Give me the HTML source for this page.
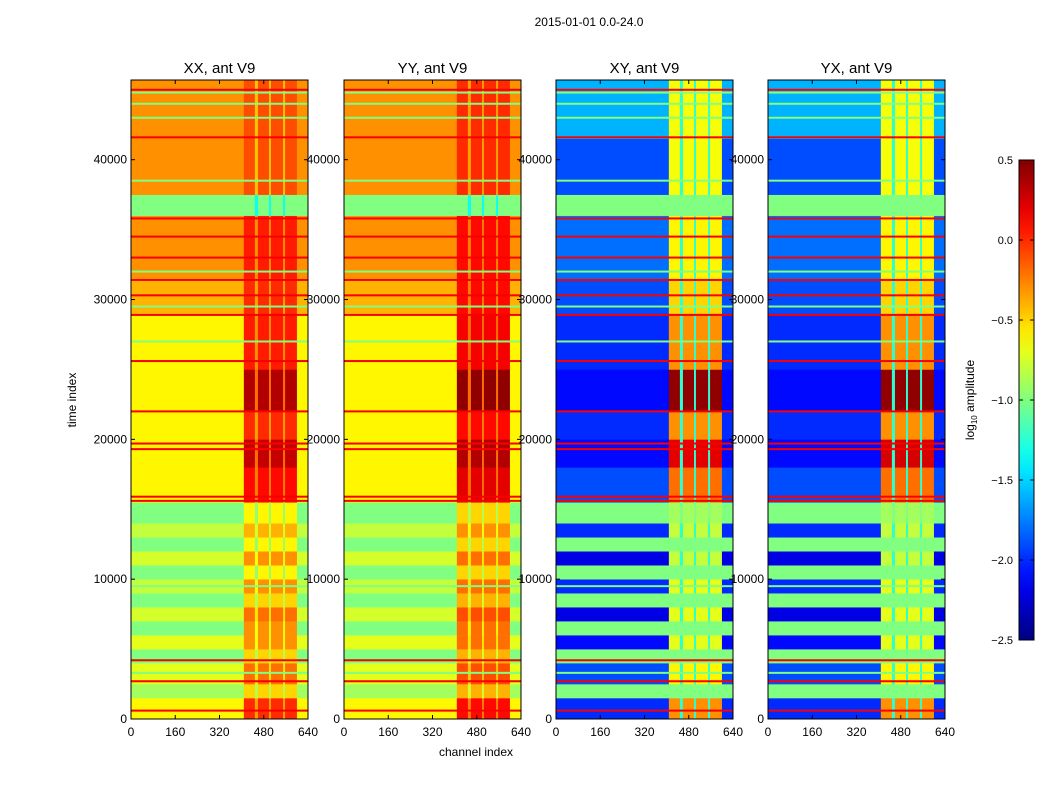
<!DOCTYPE html>
<html><head><meta charset="utf-8"><style>
html,body{margin:0;padding:0;background:#fff;}
svg{display:block;font-family:"Liberation Sans","DejaVu Sans",sans-serif;}
</style></head><body>
<svg id="fig" width="1050" height="800" viewBox="0 0 1050 800" xmlns="http://www.w3.org/2000/svg">
<rect width="1050" height="800" fill="#fff"/>
<text x="589" y="26" font-size="12" text-anchor="middle">2015-01-01 0.0-24.0</text>
<text x="76" y="400" font-size="12" text-anchor="middle" transform="rotate(-90 76 400)">time index</text>
<text x="476" y="756" font-size="12" text-anchor="middle">channel index</text>
<g id="panels"></g>
<g id="cbar"></g>
<text x="974" y="400" font-size="12" text-anchor="middle" transform="rotate(-90 974 400)">log<tspan font-size="8" dy="3">10</tspan><tspan dy="-3"> amplitude</tspan></text>
</svg>
<script>
// ---- data ----
const panelTitles = ["XX, ant V9","YY, ant V9","XY, ant V9","YX, ant V9"];
const rowEdges = [0,1500,2500,4000,5000,6000,7000,8000,9000,10000,11000,12000,13000,14000,15500,18000,20000,22000,25000,29000,31500,36000,37500,41500,45700];
const leftXX = [-0.6,-0.9,-0.7,-1.0,-0.7,-1.0,-0.75,-1.0,-0.8,-1.0,-0.75,-1.0,-0.8,-1.0,-0.6,-0.6,-0.6,-0.6,-0.6,-0.4,-0.3,-1.0,-0.3,-0.3];
const hotXX  = [0.0,-0.5,-0.2,-0.5,-0.3,-0.3,-0.2,-0.5,-0.3,-0.6,-0.3,-0.6,-0.4,-0.6,0.1,0.3,0.0,0.35,0.05,0.0,0.05,-1.0,-0.1,-0.1];
const leftYY = [-0.6,-0.9,-0.7,-1.0,-0.7,-1.0,-0.75,-1.0,-0.8,-1.0,-0.75,-1.0,-0.8,-1.0,-0.6,-0.6,-0.6,-0.6,-0.6,-0.4,-0.3,-1.0,-0.3,-0.3];
const hotYY  = [0.1,-0.4,-0.1,-0.4,-0.2,-0.2,-0.1,-0.4,-0.2,-0.5,-0.2,-0.5,-0.3,-0.5,0.2,0.35,0.1,0.45,0.15,0.1,0.1,-1.0,0.0,0.0];
const leftXY = [-2.0,-1.0,-1.9,-1.0,-2.1,-1.0,-2.2,-1.0,-2.0,-1.0,-2.2,-1.0,-2.0,-1.0,-1.9,-2.1,-2.0,-2.1,-2.0,-1.9,-1.8,-1.0,-1.9,-1.6];
const hotXY  = [-0.3,-1.0,-0.6,-1.0,-0.7,-1.0,-0.7,-1.0,-0.7,-1.0,-0.8,-1.0,-0.8,-0.9,-0.2,0.2,-0.3,0.45,-0.3,-0.5,-0.6,-1.0,-0.65,-0.65];
const leftYX = [-2.0,-1.0,-1.9,-1.0,-2.1,-1.0,-2.2,-1.0,-2.0,-1.0,-2.2,-1.0,-2.0,-1.0,-1.9,-2.1,-2.0,-2.1,-2.0,-1.9,-1.8,-1.0,-1.9,-1.6];
const hotYX  = [-0.3,-1.0,-0.6,-1.0,-0.7,-1.0,-0.7,-1.0,-0.7,-1.0,-0.8,-1.0,-0.8,-0.9,-0.2,0.25,-0.3,0.45,-0.3,-0.5,-0.6,-1.0,-0.65,-0.65];
const chanEdges = [0,408,448,459,499,506,550,557,600,640];
const chanKind  = ["L","H","G","H","G","H","G","H","L"];
const gapOffsetXX = [0.3,0.3,-0.4,-0.4];
const redLines = [600,2700,4200,15600,15900,19300,19700,22000,25600,28900,30300,31400,33000,34500,35800,41600,45000];
const greenLines = [3300,9500,27000,29500,32000,38500,43000,44000,44800];
const xTicks = [0,160,320,480,640];
const yTicks = [0,10000,20000,30000,40000];
const cbTicks = [0.5,0.0,-0.5,-1.0,-1.5,-2.0,-2.5];
const cbLabels = ["0.5","0.0","\u22120.5","\u22121.0","\u22121.5","\u22122.0","\u22122.5"];
// ---- layout ----
const panelX = [131,344,556,768], PW = 177, Y0 = 80, Y1 = 719, TMAX = 45700;
const vmin=-2.5, vmax=0.5;
const leftArr=[leftXX,leftYY,leftXY,leftYX], hotArr=[hotXX,hotYY,hotXY,hotYX];
const NS="http://www.w3.org/2000/svg";
function jet(v){
  let x=(v-vmin)/(vmax-vmin); x=Math.max(0,Math.min(1,x));
  const c=t=>Math.round(255*Math.max(0,Math.min(1,t)));
  const r=c(1.5-Math.abs(4*x-3)), g=c(1.5-Math.abs(4*x-2)), b=c(1.5-Math.abs(4*x-1));
  return `rgb(${r},${g},${b})`;
}
function el(tag,attrs,parent){const e=document.createElementNS(NS,tag);for(const k in attrs)e.setAttribute(k,attrs[k]);parent.appendChild(e);return e;}
const yS=t=>Y1-t*(Y1-Y0)/TMAX;
const root=document.getElementById("panels");
for(let p=0;p<4;p++){
  const px=panelX[p]; const xS=c=>px+c*PW/640;
  const g=el("g",{},root);
  
  
  for(let r=0;r<rowEdges.length-1;r++){
    for(let c=0;c<chanKind.length;c++){
      const k=chanKind[c];
      let v = k==="L"?leftArr[p][r]: k==="H"?hotArr[p][r]:
        (p<2? hotArr[p][r]-0.35 : (leftArr[p][r]===-1.0?-1.0:-1.25));
      if(p<2 && k==="G") v=Math.min(v, leftArr[p][r]+gapOffsetXX[p]+0.1);
      const x0=xS(chanEdges[c]), x1=xS(chanEdges[c+1]);
      const y0=yS(rowEdges[r+1]), y1=yS(rowEdges[r]);
      const rc=el("rect",{x:x0.toFixed(2),y:y0.toFixed(2),width:(x1-x0+0.3).toFixed(2),height:(y1-y0+0.3).toFixed(2),fill:jet(v)},g);
      
      
    }
  }
  for(const t of redLines){
    const ln=el("rect",{x:px,y:(yS(t)-1).toFixed(2),width:PW,height:2,fill:jet(0.15)},g);
    
    
  }
  for(const t of greenLines){
    const ln=el("rect",{x:px,y:(yS(t)-1).toFixed(2),width:PW,height:2,fill:jet(-1.0)},g);
    
    
  }
  const fr=el("rect",{x:px,y:Y0,width:PW,height:Y1-Y0,fill:"none",stroke:"#000","stroke-width":1},g);
  
  
  const tt=el("text",{x:px+PW/2,y:73,"font-size":15,"text-anchor":"middle"},g);
  tt.textContent=panelTitles[p];
  
  
  for(let i=0;i<xTicks.length;i++){
    const x=xS(xTicks[i]);
    el("line",{x1:x,x2:x,y1:Y1,y2:Y1-4,stroke:"#000"},g);
    el("line",{x1:x,x2:x,y1:Y0,y2:Y0+4,stroke:"#000"},g);
    const lb=el("text",{x:x,y:Y1+17,"font-size":12,"text-anchor":"middle"},g);
    lb.textContent=String(xTicks[i]);
    
    
  }
  for(let i=0;i<yTicks.length;i++){
    const y=yS(yTicks[i]);
    el("line",{x1:px,x2:px+4,y1:y,y2:y,stroke:"#000"},g);
    el("line",{x1:px+PW,x2:px+PW-4,y1:y,y2:y,stroke:"#000"},g);
    const lb=el("text",{x:px-4,y:y+4,"font-size":12,"text-anchor":"end"},g);
    lb.textContent=String(yTicks[i]);
    
    
  }
}
// colorbar
const cb=document.getElementById("cbar");
const CX=1019, CW=15, CY0=160, CY1=640;
const cyS=v=>CY1-(v-vmin)*(CY1-CY0)/(vmax-vmin);
const defs=el("defs",{},cb);
const gr=el("linearGradient",{id:"jetg",x1:0,y1:1,x2:0,y2:0},defs);
for(let i=0;i<=20;i++){el("stop",{offset:i/20,"stop-color":jet(vmin+(vmax-vmin)*i/20)},gr);}
const cbr=el("rect",{x:CX,y:CY0,width:CW,height:CY1-CY0,fill:"url(#jetg)",stroke:"#000","stroke-width":1},cb);


for(let i=0;i<cbTicks.length;i++){
  const y=cyS(cbTicks[i]);
  el("line",{x1:CX,x2:CX+4,y1:y,y2:y,stroke:"#000"},cb);
  el("line",{x1:CX+CW,x2:CX+CW-4,y1:y,y2:y,stroke:"#000"},cb);
  const lb=el("text",{x:1013,y:y+4,"font-size":11,"text-anchor":"end"},cb);
  lb.textContent=cbLabels[i];
  
  
}
</script>
</body></html>
